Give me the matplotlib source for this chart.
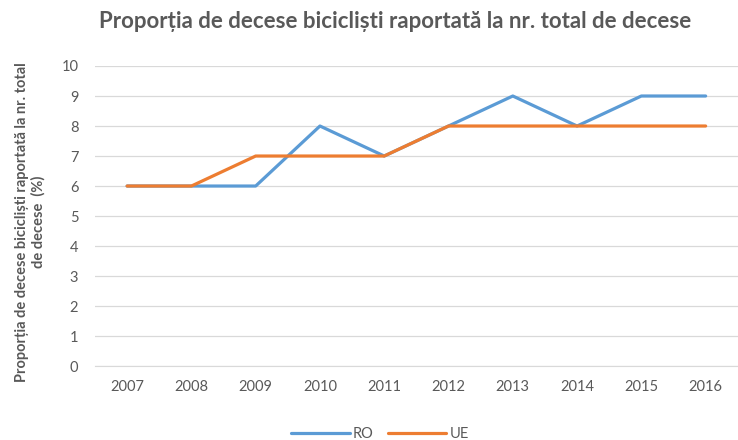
import matplotlib
matplotlib.use("Agg")
import matplotlib.pyplot as plt

years = ["2007", "2008", "2009", "2010", "2011", "2012", "2013", "2014", "2015", "2016"]
ro = [6, 6, 6, 8, 7, 8, 9, 8, 9, 9]
ue = [6, 6, 7, 7, 7, 8, 8, 8, 8, 8]

TEXT = "#595959"
plt.rcParams['font.family'] = ['Lato', 'DejaVu Sans']

fig = plt.figure(figsize=(7.38, 4.4), dpi=100)
ax = fig.add_axes([0.1287, 0.168, 0.871, 0.682])

x = range(len(years))
ax.plot(x, ro, color="#5B9BD5", lw=2.3, label="RO", solid_capstyle="round")
ax.plot(x, ue, color="#ED7D31", lw=2.3, label="UE", solid_capstyle="round")

ax.set_xlim(-0.5, len(years) - 0.5)
ax.set_ylim(0, 10)
ax.set_yticks(range(0, 11))
ax.set_xticks(list(x))
ax.set_xticklabels(years)
ax.grid(axis="y", color="#D9D9D9", lw=0.9)
ax.set_axisbelow(True)
for s in ["left", "top", "right"]:
    ax.spines[s].set_visible(False)
ax.spines["bottom"].set_color("#D9D9D9")
ax.tick_params(axis="both", length=0, colors=TEXT, labelsize=10.5)
ax.tick_params(axis="x", pad=10)
ax.tick_params(axis="y", pad=12)

fig.text(0.535, 0.95, "Proporția de decese bicicliști raportată la nr. total de decese",
         ha="center", va="center", fontsize=16, fontweight="bold", color=TEXT)
fig.text(0.041, 0.495, "Proporția de decese bicicliști raportată la nr. total\nde decese  (%)",
         ha="center", va="center", rotation=90, fontsize=10.5, fontweight="bold",
         color=TEXT, linespacing=1.15, multialignment="center")

fig.legend(loc="center", bbox_to_anchor=(0.515, 0.013), ncol=2, frameon=False,
           fontsize=10.5, labelcolor=TEXT, handlelength=4, columnspacing=1.0,
           handletextpad=0.2)

plt.savefig("out.png", dpi=100)
plt.close()
